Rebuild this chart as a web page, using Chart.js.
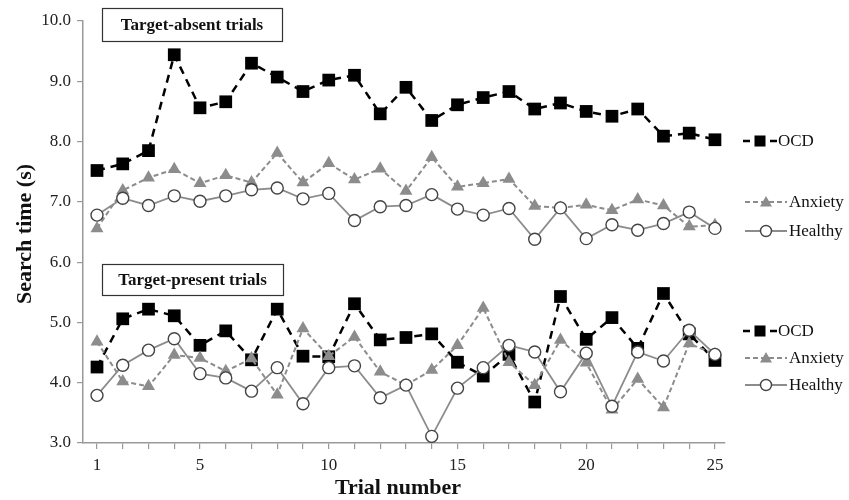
<!DOCTYPE html>
<html><head><meta charset="utf-8">
<script src="https://cdn.jsdelivr.net/npm/chart.js@4"></script>
<style>html,body{margin:0;padding:0;background:#fff}#wrap{width:849px;height:500px}</style>
</head><body><div id="wrap"><canvas id="c" width="849" height="500"></canvas></div>
<script>
// ---- data ----
const trials = [1,2,3,4,5,6,7,8,9,10,11,12,13,14,15,16,17,18,19,20,21,22,23,24,25];
const absentOCD     = [7.52,7.63,7.85,9.44,8.56,8.66,9.30,9.07,8.83,9.02,9.10,8.46,8.90,8.35,8.61,8.73,8.83,8.54,8.64,8.50,8.42,8.54,8.09,8.14,8.03];
const absentAnxiety = [6.56,7.19,7.40,7.54,7.31,7.44,7.32,7.81,7.32,7.64,7.37,7.55,7.18,7.74,7.25,7.31,7.38,6.93,6.90,6.95,6.86,7.04,6.94,6.59,6.61];
const absentHealthy = [6.78,7.06,6.94,7.10,7.01,7.10,7.20,7.23,7.05,7.14,6.69,6.92,6.94,7.12,6.88,6.78,6.89,6.38,6.90,6.39,6.62,6.53,6.64,6.83,6.56];
const presentOCD     = [4.26,5.06,5.22,5.11,4.62,4.86,4.38,5.22,4.44,4.43,5.31,4.71,4.75,4.81,4.34,4.11,4.47,3.68,5.43,4.72,5.08,4.57,5.48,4.81,4.37];
const presentAnxiety = [4.68,4.02,3.94,4.46,4.41,4.19,4.40,3.80,4.90,4.44,4.76,4.18,3.96,4.21,4.62,5.24,4.34,3.96,4.71,4.33,3.55,4.06,3.59,4.65,4.47];
const presentHealthy = [3.79,4.29,4.54,4.73,4.15,4.08,3.86,4.25,3.65,4.25,4.28,3.75,3.96,3.11,3.91,4.25,4.62,4.51,3.85,4.49,3.61,4.51,4.36,4.87,4.47];
const yTickValues = [3,4,5,6,7,8,9,10];
const xTickLabels = [1,5,10,15,20,25];
const seriesNames = ['OCD','Anxiety','Healthy'];
const panelTitles = ['Target-absent trials','Target-present trials'];
const axisTitles = {x:'Trial number', y:'Search time (s)'};

// ---- styles ----
const SERIF = '"Liberation Serif","Times New Roman",serif';
const GRAY = '#8c8c8c';
const styles = {
  OCD:     {borderColor:'#000', borderWidth:2.5, borderDash:[8,6], pointStyle:'rect', pointRadius:9, pointBackgroundColor:'#000', pointBorderColor:'#000', pointBorderWidth:0},
  Anxiety: {borderColor:GRAY, borderWidth:2, borderDash:[5,3], pointStyle:'triangle', pointRadius:7.5, pointBackgroundColor:GRAY, pointBorderColor:GRAY, pointBorderWidth:0},
  Healthy: {borderColor:GRAY, borderWidth:1.8, borderDash:[], pointStyle:'circle', pointRadius:6, pointBackgroundColor:'#fff', pointBorderColor:'#444', pointBorderWidth:1.4}
};
function ds(name, arr){
  return Object.assign({label:name, data: trials.map((t,i)=>({x:t,y:arr[i]})), fill:false, tension:0}, styles[name]);
}
// first dataset is drawn on top
const datasets = [
  ds('Healthy', absentHealthy), ds('Healthy', presentHealthy),
  ds('Anxiety', absentAnxiety), ds('Anxiety', presentAnxiety),
  ds('OCD', absentOCD), ds('OCD', presentOCD)
];

// ---- annotation plugin ----
function drawMarker(ctx, name, x, y){
  ctx.save();
  ctx.setLineDash([]);
  if(name==='OCD'){
    ctx.fillStyle='#000'; ctx.fillRect(x-5.5,y-5.5,11,11);
  } else if(name==='Anxiety'){
    ctx.fillStyle=GRAY; ctx.beginPath();
    ctx.moveTo(x,y-6); ctx.lineTo(x+6,y+4.5); ctx.lineTo(x-6,y+4.5); ctx.closePath(); ctx.fill();
  } else {
    ctx.fillStyle='#fff'; ctx.strokeStyle='#444'; ctx.lineWidth=1.4;
    ctx.beginPath(); ctx.arc(x,y,5.5,0,Math.PI*2); ctx.fill(); ctx.stroke();
  }
  ctx.restore();
}
function drawLegendEntry(ctx, name, y){
  ctx.save();
  const s = styles[name];
  let textX;
  if(name==='OCD'){
    ctx.strokeStyle='#000'; ctx.lineWidth=2.5;
    ctx.beginPath(); ctx.moveTo(743,y); ctx.lineTo(750,y); ctx.moveTo(770,y); ctx.lineTo(777,y); ctx.stroke();
    drawMarker(ctx,name,760,y);
    textX = 778;
  } else {
    ctx.strokeStyle=GRAY; ctx.lineWidth = name==='Anxiety'?2:1.8;
    ctx.setLineDash(s.borderDash);
    ctx.beginPath(); ctx.moveTo(745,y); ctx.lineTo(787,y); ctx.stroke();
    drawMarker(ctx,name,766,y);
    textX = 789;
  }
  ctx.fillStyle='#111'; ctx.font='17px '+SERIF; ctx.textBaseline='middle'; ctx.textAlign='left';
  ctx.fillText(name, textX, y+1);
  ctx.restore();
}
function drawBoxTitle(ctx, text, x1, y1, x2, y2){
  ctx.save();
  ctx.fillStyle='#fff'; ctx.fillRect(x1,y1,x2-x1,y2-y1);
  ctx.strokeStyle='#333'; ctx.lineWidth=1.2; ctx.strokeRect(x1+0.5,y1+0.5,x2-x1,y2-y1);
  ctx.fillStyle='#111'; ctx.font='bold 17px '+SERIF; ctx.textAlign='center'; ctx.textBaseline='middle';
  ctx.fillText(text,(x1+x2)/2,(y1+y2)/2+1);
  ctx.restore();
}
const annot = {
  id:'annot',
  afterDraw(chart){
    const ctx = chart.ctx;
    drawBoxTitle(ctx, panelTitles[0], 102, 8, 282, 41);
    drawBoxTitle(ctx, panelTitles[1], 102, 264, 283, 295);
    const topY = [141, 202, 231];
    const botY = [331, 358, 385];
    seriesNames.forEach((n,i)=>{ drawLegendEntry(ctx,n,topY[i]); drawLegendEntry(ctx,n,botY[i]); });
    ctx.save();
    ctx.fillStyle='#111'; ctx.font='bold 22px '+SERIF; ctx.textAlign='center'; ctx.textBaseline='middle';
    ctx.fillText(axisTitles.x, 398, 488);
    ctx.translate(25, 234); ctx.rotate(-Math.PI/2);
    ctx.fillText(axisTitles.y, 0, 0);
    ctx.restore();
  }
};

new Chart(document.getElementById('c'), {
  type:'line',
  data:{datasets},
  options:{
    responsive:false, animation:false, devicePixelRatio:1,
    layout:{padding:{top:21,right:124,left:0,bottom:0}},
    plugins:{legend:{display:false}, tooltip:{enabled:false}},
    scales:{
      x:{type:'linear', min:0.456, max:25.39,
        afterBuildTicks:s=>{ s.ticks = trials.map(v=>({value:v})); },
        afterFit:s=>{ s.height = 57; },
        ticks:{autoSkip:false, maxRotation:0, padding:6, color:'#222', font:{family:SERIF, size:17},
          callback:v=> xTickLabels.includes(v) ? String(v) : ''},
        grid:{drawOnChartArea:false, drawTicks:true, tickLength:6, color:'#999', lineWidth:1.2},
        border:{color:'#999', width:1.5}
      },
      y:{min:3, max:10,
        afterBuildTicks:s=>{ s.ticks = yTickValues.map(v=>({value:v})); },
        afterFit:s=>{ s.width = 83; },
        ticks:{padding:6, color:'#222', font:{family:SERIF, size:17}, callback:v=>Number(v).toFixed(1)},
        grid:{drawOnChartArea:false, drawTicks:true, tickLength:6, color:'#999', lineWidth:1.2},
        border:{color:'#999', width:1.5}
      }
    }
  },
  plugins:[annot]
});
</script>
</body></html>
